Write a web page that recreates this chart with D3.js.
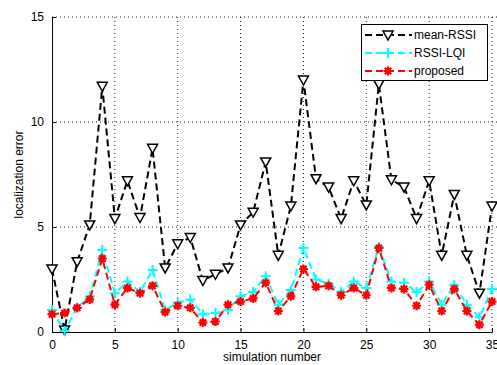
<!DOCTYPE html>
<html>
<head>
<meta charset="utf-8">
<script src="https://cdn.jsdelivr.net/npm/d3@7"></script>
<style>
  body { margin: 0; background: #fff; }
  text { font-family: "Liberation Sans", Arial, sans-serif; font-size: 12px; fill: #000; }
</style>
</head>
<body>
<svg id="chart" width="497" height="365"></svg>
<script>
var simNumbers = d3.range(0, 36);
var meanRssi = [3.0, 0.1, 3.35, 5.1, 11.7, 5.4, 7.2, 5.45, 8.75, 3.05, 4.2, 4.5, 2.45, 2.75, 3.05, 5.1, 5.7, 8.1,
  3.65, 6.0, 12.0, 7.3, 6.9, 5.4, 7.2, 6.05, 11.8, 7.25, 6.9, 5.4, 7.2, 3.65, 6.55, 3.65, 1.85, 6.0];
var rssiLqi = [1.05, 0.05, 1.15, 1.7, 3.9, 1.85, 2.4, 1.9, 2.95, 1.05, 1.4, 1.55, 0.85, 0.9, 1.05, 1.7, 1.9, 2.65,
  1.3, 2.0, 4.0, 2.5, 2.3, 1.9, 2.4, 2.1, 4.05, 2.4, 2.35, 1.9, 2.4, 1.3, 2.25, 1.3, 0.7, 2.05];
var proposed = [0.85, 0.9, 1.15, 1.55, 3.5, 1.3, 2.1, 1.85, 2.2, 0.95, 1.25, 1.15, 0.45, 0.5, 1.3, 1.45, 1.6, 2.35,
  1.0, 1.7, 3.0, 2.15, 2.2, 1.75, 2.1, 1.75, 4.0, 2.1, 2.05, 1.25, 2.25, 1.0, 2.05, 1.0, 0.35, 1.45];
var xTicks = [0, 5, 10, 15, 20, 25, 30, 35];
var yTicks = [0, 5, 10, 15];

var svg = d3.select("#chart");
var pLeft = 52, pRight = 492, pTop = 17, pBottom = 332;

var x = d3.scaleLinear().domain([0, 35]).range([pLeft, pRight]);
var y = d3.scaleLinear().domain([0, 15]).range([pBottom, pTop]);

// dotted grid
svg.selectAll(".gx").data(xTicks.slice(1)).enter().append("line")
  .attr("x1", function (d) { return x(d); }).attr("x2", function (d) { return x(d); })
  .attr("y1", pTop).attr("y2", pBottom)
  .attr("stroke", "#222").attr("stroke-width", 1).attr("stroke-dasharray", "1,3");
svg.selectAll(".gy").data(yTicks.slice(1)).enter().append("line")
  .attr("x1", pLeft).attr("x2", 497)
  .attr("y1", function (d) { return y(d); }).attr("y2", function (d) { return y(d); })
  .attr("stroke", "#222").attr("stroke-width", 1).attr("stroke-dasharray", "1,3");

// axes
var xAxis = d3.axisBottom(x).tickValues(xTicks).tickSize(-4).tickPadding(8);
var yAxis = d3.axisLeft(y).tickValues(yTicks).tickSize(-4).tickPadding(8);
svg.append("g").attr("transform", "translate(0," + pBottom + ")").call(xAxis);
svg.append("g").attr("transform", "translate(" + pLeft + ",0)").call(yAxis);
svg.selectAll(".domain").attr("stroke", "#000");
svg.selectAll(".tick line").attr("stroke", "#000");
svg.selectAll(".tick text").style("font-size", "12px").style("font-family", "Liberation Sans, Arial, sans-serif");

svg.append("text").attr("x", (pLeft + pRight) / 2).attr("y", 361)
  .attr("text-anchor", "middle").text("simulation number");
svg.append("text").attr("transform", "translate(23," + ((pTop + pBottom) / 2) + ") rotate(-90)")
  .attr("text-anchor", "middle").text("localization error");

// markers
var triPath = "M-5,-4L5,-4L0,5Z";
var plusPath = "M-5,0L5,0M0,-5L0,5";
var starPath = "M-4.5,0L4.5,0M0,-4.5L0,4.5M-3.2,-3.2L3.2,3.2M-3.2,3.2L3.2,-3.2";

var series = [
  { name: "mean-RSSI", values: meanRssi, color: "#000", marker: triPath, fill: "#fff", mw: 1.5 },
  { name: "RSSI-LQI", values: rssiLqi, color: "#00ffff", marker: plusPath, fill: "none", mw: 2 },
  { name: "proposed", values: proposed, color: "#ff0000", marker: starPath, fill: "none", mw: 2.2 }
];

var line = d3.line()
  .x(function (d, i) { return x(simNumbers[i]); })
  .y(function (d) { return y(d); });

series.forEach(function (s) {
  svg.append("path").datum(s.values)
    .attr("d", line)
    .attr("fill", "none")
    .attr("stroke", s.color)
    .attr("stroke-width", 2)
    .attr("stroke-dasharray", "7,4");
  svg.selectAll(null).data(s.values).enter().append("path")
    .attr("d", s.marker)
    .attr("transform", function (d, i) { return "translate(" + x(simNumbers[i]) + "," + y(d) + ")"; })
    .attr("fill", s.fill)
    .attr("stroke", s.color)
    .attr("stroke-width", s.mw);
});

// legend
var lg = svg.append("g");
lg.append("rect").attr("x", 361.5).attr("y", 24.5).attr("width", 126).attr("height", 56)
  .attr("fill", "#fff").attr("stroke", "#000").attr("stroke-width", 1);
series.forEach(function (s, i) {
  var ly = 35 + i * 18;
  lg.append("line").attr("x1", 365).attr("x2", 412).attr("y1", ly).attr("y2", ly)
    .attr("stroke", s.color).attr("stroke-width", 2).attr("stroke-dasharray", "7,4");
  lg.append("path").attr("d", s.marker)
    .attr("transform", "translate(388," + ly + ")")
    .attr("fill", s.fill).attr("stroke", s.color).attr("stroke-width", s.mw);
  lg.append("text").attr("x", 414).attr("y", ly + 4).text(s.name);
});
</script>
</body>
</html>
